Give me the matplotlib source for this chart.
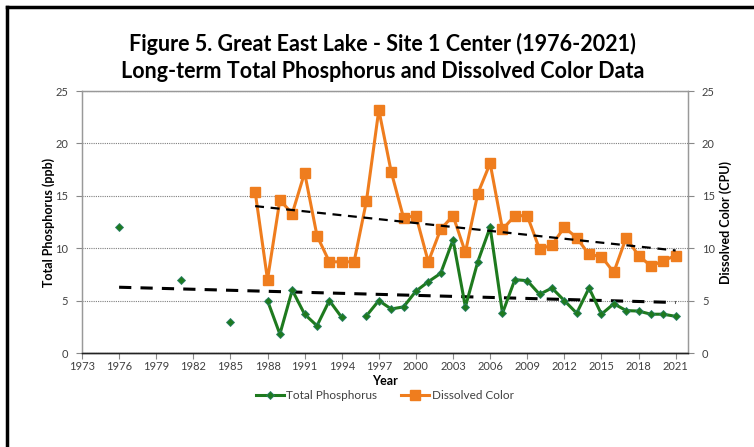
import numpy as np
import matplotlib.pyplot as plt
from matplotlib.lines import Line2D

# data
tp_years = [1976, 1977, 1978, 1979, 1980, 1981, 1982, 1983, 1984, 1985,
            1986, 1987, 1988, 1989, 1990, 1991, 1992, 1993, 1994, 1995,
            1996, 1997, 1998, 1999, 2000, 2001, 2002, 2003, 2004, 2005,
            2006, 2007, 2008, 2009, 2010, 2011, 2012, 2013, 2014, 2015,
            2016, 2017, 2018, 2019, 2020, 2021]
tp_values = [12.0, np.nan, np.nan, np.nan, np.nan, 7.0, np.nan, np.nan, np.nan, 3.0,
             np.nan, np.nan, 5.0, 1.8, 6.0, 3.7, 2.6, 5.0, 3.4, np.nan,
             3.55, 5.0, 4.2, 4.4, 5.9, 6.8, 7.6, 10.8, 4.4, 8.7,
             12.0, 3.8, 7.0, 6.9, 5.6, 6.2, 5.0, 3.8, 6.2, 3.7,
             4.7, 4.05, 4.0, 3.7, 3.7, 3.5]

color_years = list(range(1987, 2022))
color_values = [15.4, 7.0, 14.6, 13.3, 17.2, 11.2, 8.7, 8.7, 8.7, 14.5,
                23.2, 17.3, 12.9, 13.1, 8.7, 11.8, 13.1, 9.6, 15.2, 18.1,
                11.8, 13.1, 13.1, 9.9, 10.3, 12.0, 11.0, 9.4, 9.2, 7.7,
                11.0, 9.3, 8.3, 8.8, 9.3]

x_ticks = list(range(1973, 2022, 3))
y_ticks = [0, 5, 10, 15, 20, 25]

title_text = 'Figure 5. Great East Lake - Site 1 Center (1976-2021)\nLong-term Total Phosphorus and Dissolved Color Data'

plt.rcParams['font.family'] = ['Lato', 'DejaVu Sans']

green = '#1E7A1E'
orange = '#EF7D1E'
tick_color = '#404040'


def trend(years, values):
    years = np.asarray(years, dtype=float)
    values = np.asarray(values, dtype=float)
    ok = ~np.isnan(values)
    slope, intercept = np.polyfit(years[ok], values[ok], 1)
    xs = np.array([years[ok].min(), years[ok].max()])
    return xs, slope * xs + intercept


def main():
    fig = plt.figure(figsize=(7.54, 4.47), dpi=100)
    ax = fig.add_axes([82 / 754, 94 / 447, 606 / 754, 262 / 447])
    ax2 = ax.twinx()

    # main series
    ax.plot(tp_years, tp_values, color=green, lw=2.2, marker='D', ms=4.5,
            mfc=green, mec='#2A7F6A', mew=0.6, zorder=4)
    ax2.plot(color_years, color_values, color=orange, lw=2.2, marker='s', ms=7,
             mfc=orange, mec=orange, zorder=3)

    # linear trend lines
    tx, ty = trend(tp_years, tp_values)
    ax.plot(tx, ty, color='black', lw=2.2, ls=(0, (4, 3)), zorder=3)
    cx, cy = trend(color_years, color_values)
    ax2.plot(cx, cy, color='black', lw=1.6, ls=(0, (4, 3)), zorder=5)

    for a in (ax, ax2):
        a.set_ylim(0, 25)
        a.set_yticks(y_ticks)
        a.tick_params(axis='y', labelsize=8, colors='#888888', labelcolor=tick_color,
                      length=4, width=0.8, pad=6)
        for s in ('left', 'right', 'top'):
            a.spines[s].set_color('#999999')
            a.spines[s].set_linewidth(0.9)
        a.spines['bottom'].set_color('#222222')
        a.spines['bottom'].set_linewidth(1.0)

    ax.set_xlim(1973, 2022)
    ax.set_xticks(x_ticks)
    ax.tick_params(axis='x', labelsize=8, colors='#888888', labelcolor=tick_color,
                   length=4, width=0.8, pad=2)

    ax.yaxis.grid(True, linestyle=(0, (1, 1)), color='#7F7F7F', lw=0.8)
    ax.set_axisbelow(True)

    ax.set_xlabel('Year', fontsize=9, fontweight='bold', labelpad=2)
    ax.set_ylabel('Total Phosphorus (ppb)', fontsize=9, fontweight='bold', labelpad=0)
    ax2.set_ylabel('Dissolved Color (CPU)', fontsize=9, fontweight='bold', labelpad=3)

    fig.text(0.507, 0.872, title_text, ha='center', va='center', fontsize=15.5,
             fontweight='bold', linespacing=1.35)

    handles = [
        Line2D([], [], color=green, lw=2.2, marker='D', ms=4.5, mec='#2A7F6A', mew=0.6),
        Line2D([], [], color=orange, lw=2.2, marker='s', ms=7),
    ]
    fig.legend(handles, ['Total Phosphorus', 'Dissolved Color'], loc='center',
               bbox_to_anchor=(0.51, 0.116), ncol=2, frameon=False, fontsize=8.5,
               labelcolor='#404040', handlelength=2.4, columnspacing=2.0,
               handletextpad=0.2)

    # outer chart border (left and top edges visible)
    fig.add_artist(Line2D([7 / 754, 7 / 754], [0, 1 - 7 / 447], color='black', lw=2.5,
                          transform=fig.transFigure))
    fig.add_artist(Line2D([7 / 754, 1], [1 - 7 / 447, 1 - 7 / 447], color='black', lw=2.5,
                          transform=fig.transFigure))

    fig.savefig('out.png', dpi=100)


if __name__ == '__main__':
    main()
